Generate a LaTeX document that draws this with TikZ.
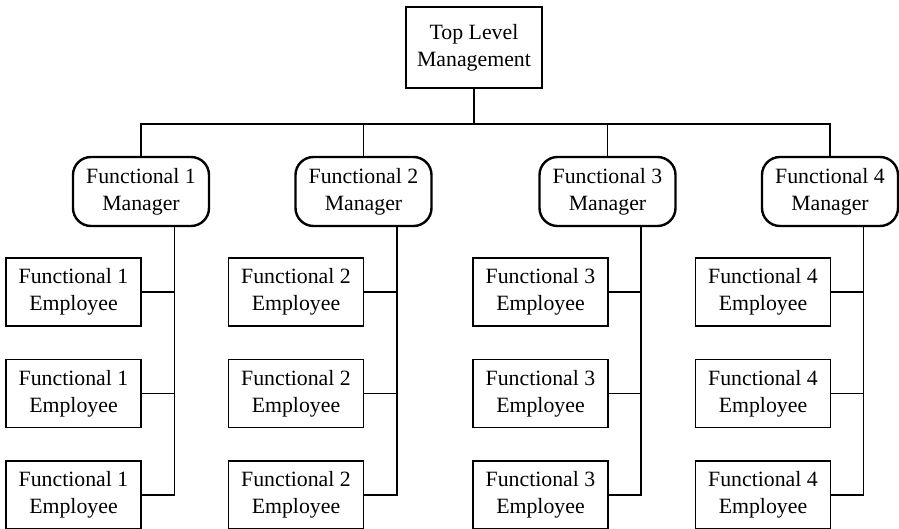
\documentclass[tikz,border=0pt]{standalone}
\usepackage{fontspec}
\setmainfont{Liberation Serif}
\usetikzlibrary{calc}
\begin{document}
\begin{tikzpicture}[x=1pt,y=-1pt,
  box/.style={draw, line width=1.3pt, minimum width=135pt, minimum height=68pt,
    inner sep=0pt, align=center, font=\fontsize{21.8}{26.7}\selectfont},
  mgr/.style={box, rounded corners=18pt, line width=2.4pt, minimum width=136pt, minimum height=69pt},
  link/.style={line width=1.3pt}]
\useasboundingbox (0,0) rectangle (899,529);

% top of the hierarchy
\node[box, minimum width=136pt, minimum height=81pt] (top) at (474,47.5) {Top Level\\Management};

% functional managers
\node[mgr] (m1) at (141,191.5) {Functional 1\\Manager};
\node[mgr] (m2) at (363.5,191.5) {Functional 2\\Manager};
\node[mgr] (m3) at (607.5,191.5) {Functional 3\\Manager};
\node[mgr] (m4) at (830,191.5) {Functional 4\\Manager};

% employees, three per function
\foreach \i/\x in {1/73.5, 2/296, 3/540.5, 4/763} {
  \node[box] (e\i1) at (\x,292) {Functional \i\\Employee};
  \node[box] (e\i2) at (\x,393.5) {Functional \i\\Employee};
  \node[box] (e\i3) at (\x,495) {Functional \i\\Employee};
}

% management bus
\coordinate (bus) at (474,124);
\draw[link] (top.south) -- (bus);
\draw[link] (m1.north) -- (m1.north |- bus) -- (m4.north |- bus) -- (m4.north);
\draw[link] (m2.north) -- (m2.north |- bus);
\draw[link] (m3.north) -- (m3.north |- bus);

% each manager's line down to the employees
\foreach \i in {1,2,3,4} {
  \coordinate (s\i) at ([xshift=33.5pt]m\i.south);
  \draw[link] (s\i) |- (e\i3.east);
  \draw[link] (e\i1.east) -- (e\i1.east -| s\i);
  \draw[link] (e\i2.east) -- (e\i2.east -| s\i);
}
\end{tikzpicture}
\end{document}
